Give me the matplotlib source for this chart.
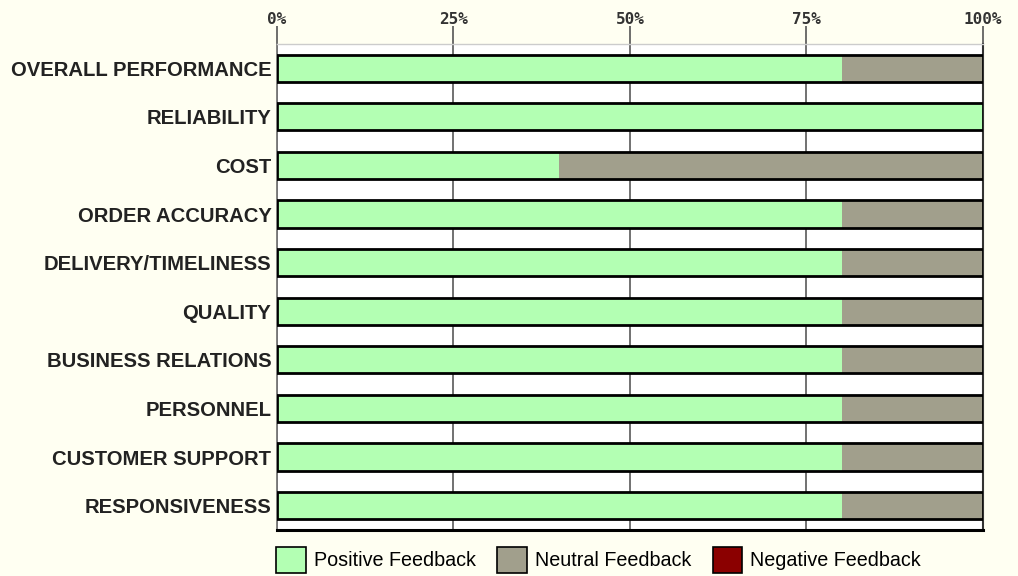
import matplotlib
matplotlib.use("Agg")
import matplotlib.pyplot as plt
import numpy as np
from matplotlib.patches import Patch

categories = [
    'OVERALL PERFORMANCE',
    'RELIABILITY',
    'COST',
    'ORDER ACCURACY',
    'DELIVERY/TIMELINESS',
    'QUALITY',
    'BUSINESS RELATIONS',
    'PERSONNEL',
    'CUSTOMER SUPPORT',
    'RESPONSIVENESS',
]
positive = [80, 100, 40, 80, 80, 80, 80, 80, 80, 80]
neutral = [20, 0, 60, 20, 20, 20, 20, 20, 20, 20]
negative = [0, 0, 0, 0, 0, 0, 0, 0, 0, 0]
tick_vals = [0, 25, 50, 75, 100]
tick_labels = ['0%', '25%', '50%', '75%', '100%']

POS_COLOR = '#b3ffb3'
NEU_COLOR = '#a19f8c'
NEG_COLOR = '#8b0000'

fig = plt.figure(figsize=(10.18, 5.76), dpi=100)
fig.patch.set_facecolor('#fffff2')
ax = fig.add_axes([0.2721, 0.0799, 0.6935, 0.8438])
ax.set_facecolor('white')

y = np.arange(len(categories))
pos = np.array(positive)
neu = np.array(neutral)
neg = np.array(negative)
h = 0.56

ax.barh(y, pos, height=h, color=POS_COLOR, edgecolor='none', zorder=3)
ax.barh(y, neu, left=pos, height=h, color=NEU_COLOR, edgecolor='none', zorder=3)
ax.barh(y, neg, left=pos + neu, height=h, color=NEG_COLOR, edgecolor='none', zorder=3)
ax.barh(y, pos + neu + neg, height=h, facecolor='none', edgecolor='black', linewidth=2.0, zorder=4)

ax.set_xlim(0, 100)
ax.set_ylim(len(categories) - 0.5, -0.5)
ax.set_yticks(y)
ax.set_yticklabels(categories, fontsize=14.6, fontweight='bold', color='#222222',
                   family='Liberation Sans')
ax.tick_params(axis='y', length=0, pad=4)

ax.xaxis.tick_top()
ax.set_xticks(tick_vals)
ax.set_xticklabels(tick_labels, fontsize=11.5, fontweight='bold', color='#333333',
                   family='DejaVu Sans Mono')
ax.tick_params(axis='x', direction='out', length=13, width=1.2, color='#555555', pad=-1)

ax.grid(axis='x', color='#666666', linewidth=1.3, zorder=1)
ax.set_axisbelow(True)

ax.spines['top'].set_color('#cccccc')
ax.spines['top'].set_linewidth(1.0)
ax.spines['left'].set_color('#777777')
ax.spines['left'].set_linewidth(1.3)
ax.spines['right'].set_color('#333333')
ax.spines['right'].set_linewidth(1.5)
ax.spines['bottom'].set_color('black')
ax.spines['bottom'].set_linewidth(2.2)

handles = [
    Patch(facecolor=POS_COLOR, edgecolor='black', linewidth=1.2, label='Positive Feedback'),
    Patch(facecolor=NEU_COLOR, edgecolor='black', linewidth=1.2, label='Neutral Feedback'),
    Patch(facecolor=NEG_COLOR, edgecolor='black', linewidth=1.2, label='Negative Feedback'),
]
fig.legend(handles=handles, loc='center left', bbox_to_anchor=(0.258, 0.028), ncol=3,
           frameon=False, prop={'family': 'Liberation Sans', 'size': 14.2},
           handlelength=1.5, handleheight=1.6, handletextpad=0.4, columnspacing=1.1,
           borderpad=0.2)

fig.savefig('out.png', dpi=100, facecolor=fig.get_facecolor())
